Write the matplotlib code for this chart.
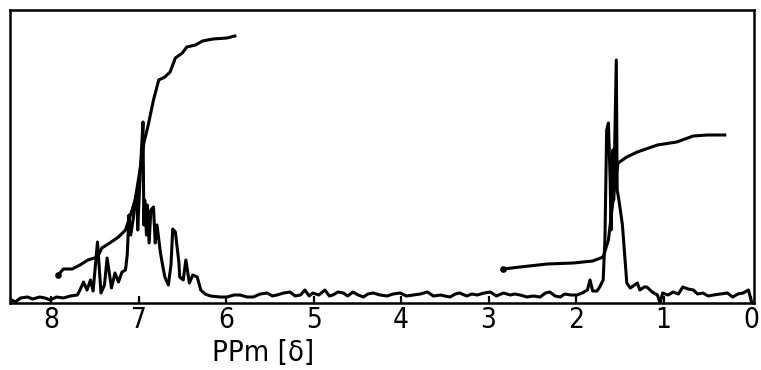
import matplotlib
matplotlib.use("Agg")
import matplotlib.pyplot as plt

# Spectrum trace (chemical shift in ppm, intensity in arbitrary units)
spec_ppm = [8.47, 8.41, 8.35, 8.27, 8.21, 8.13, 8.07, 8.01, 7.94, 7.86, 7.78, 7.70,
            7.67, 7.63, 7.59, 7.55, 7.52, 7.47, 7.43, 7.39, 7.36, 7.31, 7.27, 7.23,
            7.19, 7.15, 7.13, 7.11, 7.09, 7.06, 7.04, 7.02, 7.01, 6.98, 6.95, 6.94,
            6.93, 6.91, 6.90, 6.88, 6.86, 6.83, 6.81, 6.79, 6.75, 6.72, 6.70, 6.66,
            6.63, 6.61, 6.58, 6.54, 6.53, 6.49, 6.46, 6.42, 6.38, 6.33, 6.29, 6.24,
            6.18,
            6.07, 5.99, 5.91, 5.84, 5.76, 5.69, 5.61, 5.53, 5.47, 5.42, 5.34, 5.27,
            5.21, 5.15, 5.10, 5.05, 5.01, 4.94, 4.87, 4.82, 4.78, 4.72, 4.66, 4.61,
            4.55, 4.49, 4.43, 4.38, 4.32, 4.24, 4.16, 4.09, 4.01, 3.94, 3.86, 3.78,
            3.70, 3.63, 3.55, 3.50, 3.44, 3.38, 3.33, 3.25, 3.19, 3.13, 3.05, 2.98,
            2.91, 2.83, 2.75, 2.70, 2.64, 2.56, 2.49, 2.41, 2.35, 2.30, 2.24, 2.18,
            2.13, 2.06, 1.99, 1.93, 1.87, 1.84, 1.81, 1.76, 1.73, 1.69,
            1.67, 1.65, 1.63, 1.61, 1.60, 1.58, 1.57, 1.54, 1.53, 1.51, 1.47, 1.44,
            1.42, 1.38,
            1.30, 1.27, 1.22, 1.19, 1.13, 1.07, 1.04, 1.01, 0.95, 0.89, 0.83,
            0.78, 0.72, 0.66, 0.61, 0.55, 0.49, 0.43, 0.35, 0.27, 0.21, 0.15, 0.09,
            0.03, -0.01]
spec_int = [4, 1, 5, 6, 4, 6, 5, 3, 6, 5, 7, 8,
            13, 21, 13, 23, 12, 61, 10, 18, 45, 15, 30, 21,
            31, 33, 48, 88, 68, 85, 103, 110, 73, 133, 181, 78,
            103, 68, 98, 60, 93, 96, 60, 78, 50, 35, 26, 18,
            38, 74, 71, 41, 26, 23, 43, 20, 28, 26, 13, 9,
            7,
            6, 6, 8, 8, 6, 6, 9, 10, 7, 8, 10, 11,
            7, 8, 13, 7, 10, 8, 13, 7, 8, 11, 10, 7,
            11, 8, 6, 9, 10, 8, 7, 9, 10, 7, 8, 9,
            11, 7, 8, 7, 6, 9, 10, 7, 9, 8, 10, 11,
            7, 10, 8, 9, 8, 6, 7, 6, 10, 11, 7, 6,
            9, 8, 8, 10, 13, 23, 12, 12, 16, 23,
            63, 173, 180, 123, 73, 153, 103, 243, 113, 103, 78, 43,
            20, 15,
            20, 13, 16, 16, 11, 8, 0, 10, 8, 11, 9,
            16, 14, 13, 9, 10, 7, 8, 9, 10, 6, 9, 10,
            13, 0]

# Integral trace, aromatic region
int1_ppm = [7.92, 7.86, 7.76, 7.67, 7.58, 7.47, 7.42, 7.33, 7.23, 7.15, 7.10, 7.04,
            6.99, 6.94, 6.89, 6.83, 6.77, 6.70, 6.64, 6.58, 6.50, 6.45, 6.35, 6.27,
            6.15, 5.99, 5.90]
int1_val = [28, 34, 34, 38, 43, 46, 55, 60, 66, 73, 86, 103,
            130, 160, 178, 203, 223, 226, 231, 245, 250, 256, 258, 262,
            264, 265, 267]

# Integral trace, aliphatic region
int2_ppm = [2.83, 2.64, 2.33, 2.03, 1.81, 1.69, 1.63, 1.59, 1.55, 1.52, 1.42, 1.30,
            1.07, 0.85, 0.66, 0.50, 0.30]
int2_val = [34, 36, 39, 40, 42, 46, 63, 93, 123, 140, 146, 151,
            158, 161, 167, 168, 168]

tick_vals = [8, 7, 6, 5, 4, 3, 2, 1, 0]
tick_labels = ["8", "7", "6", "5", "4", "3", "2", "1", "0"]
xlabel_text = "PPm [δ]"

W, H = 761, 370
fig = plt.figure(figsize=(W / 100, H / 100), dpi=100)
ax = fig.add_axes([10 / W, (H - 303) / H, 744 / W, 293 / H])

lw = 2.2
ax.plot(spec_ppm, spec_int, color="black", lw=lw, solid_joinstyle="round")
ax.plot(int1_ppm, int1_val, color="black", lw=lw, solid_joinstyle="round")
ax.plot(int2_ppm, int2_val, color="black", lw=lw, solid_joinstyle="round")
ax.plot([int1_ppm[0], int2_ppm[0]], [int1_val[0], int2_val[0]], "o",
        color="black", ms=3.8)

ax.set_xlim(8.47, -0.034)
ax.set_ylim(0, 293)
ax.set_yticks([])
ax.set_xticks(tick_vals)
ax.set_xticklabels(tick_labels, fontsize=20, fontstretch="condensed",
                   family="DejaVu Sans")
ax.tick_params(axis="x", direction="in", length=5, width=1.6, pad=2)
for s in ax.spines.values():
    s.set_linewidth(1.8)

fig.text(263 / W, 1 - 353 / H, xlabel_text, fontsize=21, ha="center", va="center",
         fontstretch="condensed", family="DejaVu Sans")

fig.savefig("out.png", dpi=100)
